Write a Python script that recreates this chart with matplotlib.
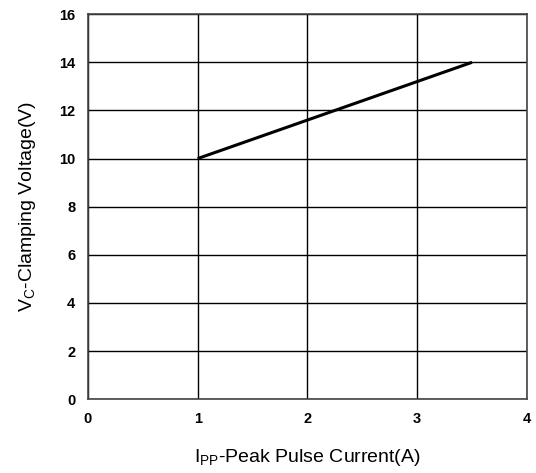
import matplotlib
matplotlib.use("Agg")
import matplotlib.pyplot as plt

# clamping voltage vs peak pulse current
current_a = [1.0, 3.5]
voltage_v = [10.0, 14.0]
x_ticks = [0, 1, 2, 3, 4]
y_ticks = [0, 2, 4, 6, 8, 10, 12, 14, 16]

plt.rcParams["font.family"] = ["Liberation Sans", "DejaVu Sans"]
plt.rcParams["mathtext.fontset"] = "custom"
plt.rcParams["mathtext.rm"] = "Liberation Sans"

fig = plt.figure(figsize=(5.36, 4.73), dpi=100)
ax = fig.add_axes([0.164, 0.156, 0.819, 0.814])

ax.plot(current_a, voltage_v, color="black", lw=2.2, solid_capstyle="butt")

ax.set_xlim(0, 4)
ax.set_ylim(0, 16)
ax.set_xticks(x_ticks)
ax.set_yticks(y_ticks)
ax.grid(True, color="black", lw=1.0)
ax.set_axisbelow(True)
for s in ax.spines.values():
    s.set_color("#444444")
    s.set_linewidth(1.2)

ax.tick_params(length=0, labelsize=10.5)
ax.tick_params(axis="x", pad=9)
ax.tick_params(axis="y", pad=9)
for lab in ax.get_xticklabels() + ax.get_yticklabels():
    lab.set_fontweight("bold")

ax.set_xlabel(r"I$_\mathregular{PP}$-Peak Pulse Current(A)", fontsize=14, labelpad=15)
ax.set_ylabel(r"V$_\mathregular{C}$-Clamping Voltage(V)", fontsize=14, labelpad=15)

fig.savefig("out.png", dpi=100)
